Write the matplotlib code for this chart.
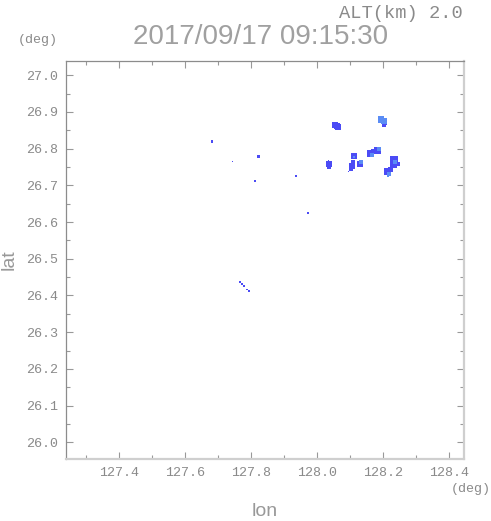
import matplotlib
matplotlib.use("Agg")
import matplotlib.pyplot as plt
from matplotlib.ticker import MultipleLocator, FixedLocator

# ---- data: radar echo cells (lon, lat), cell size (px), intensity class ----
lon = [128.055, 128.063, 128.060,
       128.193, 128.203, 128.202, 128.207,
       128.036, 128.036, 128.033,
       128.111, 128.111, 128.105, 128.102, 128.096, 128.108, 128.130, 128.133,
       128.160, 128.166, 128.184, 128.187, 128.172,
       128.233, 128.230, 128.236, 128.245, 128.214, 128.223, 128.217, 128.214,
       127.682, 127.745, 127.821, 127.812, 127.936, 127.972,
       127.766, 127.772, 127.778, 127.788, 127.794]
lat = [26.865, 26.859, 26.862,
       26.880, 26.875, 26.865, 26.868,
       26.758, 26.750, 26.769,
       26.780, 26.777, 26.753, 26.745, 26.737, 26.764, 26.758, 26.764,
       26.786, 26.783, 26.794, 26.799, 26.791,
       26.769, 26.756, 26.764, 26.758, 26.737, 26.742, 26.731, 26.726,
       26.819, 26.766, 26.780, 26.712, 26.726, 26.625,
       26.437, 26.431, 26.426, 26.417, 26.412]
cell_px = [6, 6, 6,
           6.5, 6, 3.5, 3.5,
           6, 3.5, 1,
           6, 2.5, 6, 3.5, 1, 3.5, 6, 3.5,
           7, 4.5, 7, 4.5, 5,
           7.5, 7, 3.5, 3.5, 7, 5, 3.5, 2.5,
           2.5, 1, 3, 2, 1.5, 1.5,
           1.5, 2.5, 1.5, 1.5, 1.5]
level = [0, 0, 0,
         1, 1, 0, 0,
         0, 0, 0,
         0, 1, 0, 0, 0, 0, 0, 1,
         0, 1, 0, 1, 0,
         0, 0, 1, 0, 0, 0, 1, 1,
         0, 0, 0, 0, 0, 0,
         0, 0, 0, 0, 0]

xticks = [127.4, 127.6, 127.8, 128.0, 128.2, 128.4]
yticks = [26.0, 26.1, 26.2, 26.3, 26.4, 26.5, 26.6, 26.7, 26.8, 26.9, 27.0]
title = "2017/09/17 09:15:30"
alt_text = "ALT(km) 2.0"

# ---- drawing ----
DPI = 100
fig = plt.figure(figsize=(4.91, 5.21), dpi=DPI)
ax = fig.add_axes([0.1354, 0.119, 0.809, 0.763])
ax.set_xlim(127.241, 128.4436)
ax.set_ylim(25.9545, 27.0376)

level_colors = ["#4b4bf5", "#5a8cf5"]
order = sorted(range(len(lon)), key=lambda i: level[i])
ax.scatter([lon[i] for i in order], [lat[i] for i in order],
           s=[(cell_px[i] * 72 / DPI) ** 2 for i in order],
           c=[level_colors[level[i]] for i in order],
           marker="s", linewidths=0, zorder=3)

txt_col = "#8a8a8a"
mono = "Liberation Mono"
ax.xaxis.set_major_locator(FixedLocator(xticks))
ax.yaxis.set_major_locator(FixedLocator(yticks))
ax.xaxis.set_minor_locator(MultipleLocator(0.1))
ax.yaxis.set_minor_locator(MultipleLocator(0.05))
ax.set_xticklabels([f"{v:.1f}" for v in xticks])
ax.set_yticklabels([f"{v:.1f}" for v in yticks])
ax.tick_params(which="both", direction="in", top=True, right=True,
               colors="#999999", labelcolor=txt_col, width=0.8)
ax.tick_params(which="major", length=5, labelsize=9.6, pad=6)
ax.tick_params(which="minor", length=3)
for lab in ax.get_xticklabels() + ax.get_yticklabels():
    lab.set_fontfamily(mono)

ax.spines["left"].set_color("#8c8c8c")
ax.spines["top"].set_color("#8c8c8c")
ax.spines["left"].set_linewidth(0.9)
ax.spines["top"].set_linewidth(0.9)
ax.spines["right"].set_color("#cfcfcf")
ax.spines["bottom"].set_color("#cfcfcf")
ax.spines["right"].set_linewidth(1.6)
ax.spines["bottom"].set_linewidth(1.6)

W, H = 491, 521
def put(x, y, s, color=txt_col, **kw):
    fig.text(x / W, 1 - y / H, s, color=color, **kw)

put(260.5, 37, title, fontsize=20, family="Liberation Sans", ha="center", va="center",
    color="#a0a0a0")
put(463, 13, alt_text, fontsize=13.5, family=mono, ha="right", va="center")
put(38, 40, "(deg)", fontsize=9.6, family=mono, ha="center", va="center")
put(471, 489, "(deg)", fontsize=9.6, family=mono, ha="center", va="center")
put(265, 512, "lon", fontsize=14, family="Liberation Sans", ha="center", va="center",
    color="#999999")
put(9, 260, "lat", fontsize=14, family="Liberation Sans", ha="center", va="center",
    rotation=90, color="#999999")

fig.savefig("out.png", dpi=DPI)
